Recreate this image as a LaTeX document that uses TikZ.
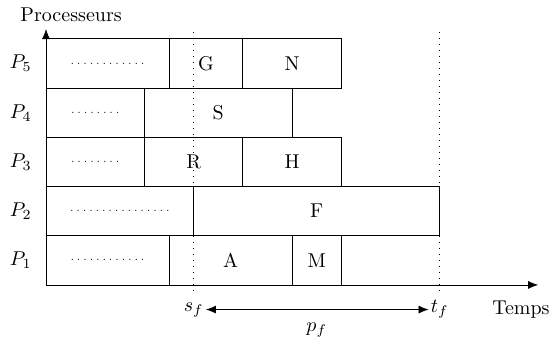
\documentclass[tikz,border=0pt]{standalone}
\usetikzlibrary{arrows.meta}
\newlength\ul
\setlength\ul{0.865cm}
\newcommand\dts[1]{{\fontsize{5}{6}\selectfont\foreach \i in {1,...,#1}{\makebox[3.2pt]{.}}}}
\begin{document}
\begin{tikzpicture}[x=\ul,y=\ul,
  task/.style={draw, thin, inner sep=0pt, outer sep=0pt, minimum height=\ul, minimum width=#1*\ul},
  guide/.style={dash pattern=on 0.4pt off 2.6pt},
  axisline/.style={-{Latex[length=5pt,width=4pt]}},
  lbl/.style={inner sep=1pt}]
\useasboundingbox (-0.935,-1.26) rectangle (10.24,5.79);
% P5
\node[task=2.5] (d5) at (1.25,4.5) {\dts{12}};
\node[task=1.5] (G) at (3.25,4.5) {G};
\node[task=2] (N) at (5,4.5) {N};
% P4
\node[task=2] (d4) at (1,3.5) {\dts{8}};
\node[task=3] (S) at (3.5,3.5) {S};
% P3
\node[task=2] (d3) at (1,2.5) {\dts{8}};
\node[task=2] (R) at (3,2.5) {R};
\node[task=2] (H) at (5,2.5) {H};
% P2
\node[task=3] (d2) at (1.5,1.5) {\dts{16}};
\node[task=5] (F) at (5.5,1.5) {F};
% P1
\node[task=2.5] (d1) at (1.25,0.5) {\dts{12}};
\node[task=2.5] (A) at (3.75,0.5) {A};
\node[task=1] (M) at (5.5,0.5) {M};
% axes
\coordinate (O) at (0,0);
\coordinate (xend) at (10,0);
\coordinate (yend) at (0,5.2);
\draw[axisline] (O) -- (xend);
\draw[axisline] (O) -- (yend);
\node (proc) at (0.51,5.49) {Processeurs};
\node (temps) at (9.65,-0.5) {Temps};
% processor labels
\foreach \k in {1,...,5}
  \node[left] (P\k) at (-0.15,\k-0.5) {$P_\k$};
% guides
\coordinate (sftop) at (3,5.14);
\coordinate (sfbot) at (3,-0.2);
\coordinate (tftop) at (8,5.14);
\coordinate (tfbot) at (8,-0.2);
\draw[guide] (sftop) -- (sfbot);
\draw[guide] (tftop) -- (tfbot);
\node[lbl] (sf) at (3,-0.5) {$s_f$};
\node[lbl] (tf) at (8,-0.5) {$t_f$};
\draw[{Latex[length=5pt,width=4pt]}-{Latex[length=5pt,width=4pt]}] (sf) -- (tf);
\node (pf) at (5.5,-0.92) {$p_f$};
\end{tikzpicture}
\end{document}
